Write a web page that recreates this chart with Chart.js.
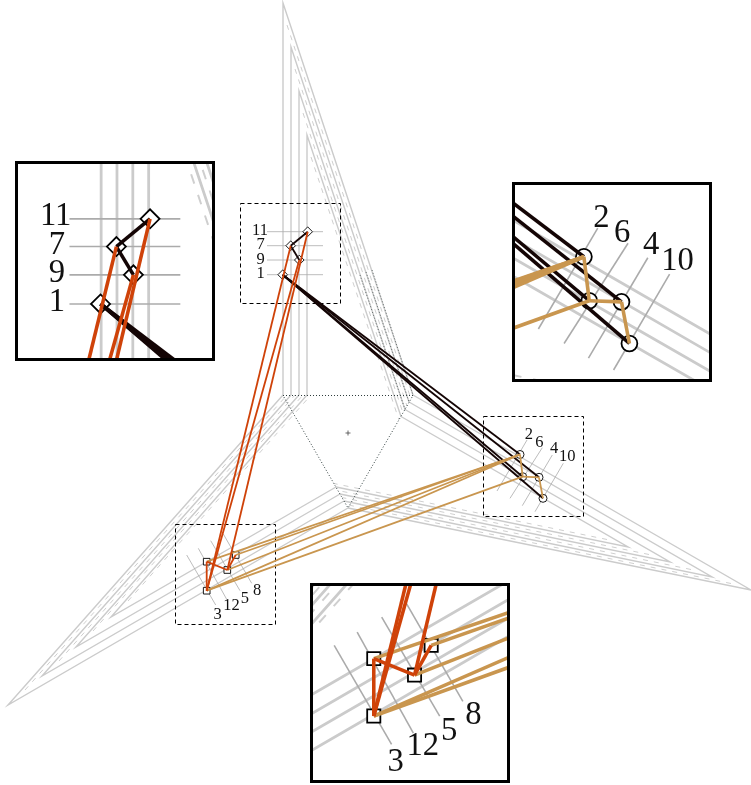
<!DOCTYPE html>
<html lang="en">

<head>
    <meta charset="UTF-8">
    <title>Triple axis graph</title>
    <script src="https://cdn.jsdelivr.net/npm/chart.js"></script>
    <style>
        html, body { margin: 0; padding: 0; background: #fff; }
        #main { position: absolute; left: 0; top: 0; }
        .inset { position: absolute; box-sizing: border-box; width: 200px; height: 200px; border: 3px solid #000; background: #fff; }
        .inset canvas { position: absolute; left: 0; top: 0; }
    </style>
</head>

<body>
    <canvas id="main" width="751" height="785"></canvas>
    <div class="inset" style="left:15px;top:161px"><canvas id="insetA" width="194" height="194"></canvas></div>
    <div class="inset" style="left:512px;top:182px"><canvas id="insetB" width="194" height="194"></canvas></div>
    <div class="inset" style="left:310px;top:583px"><canvas id="insetC" width="194" height="194"></canvas></div>

<script>
    // nodes, index 0 is node 1
    const nodeLabels = ['1', '2', '3', '4', '5', '6', '7', '8', '9', '10', '11', '12'];
    const nodeX = [282.7, 520, 206.7, 539, 227.3, 522.7, 290.7, 235.7, 299.3, 543, 307.7, 206.7];
    const nodeY = [274.7, 454.5, 590.7, 477.3, 570, 476.7, 245.7, 555, 260, 498.3, 231.7, 561.7];

    const diamondNodes = [1, 7, 9, 11];
    const circleNodes = [2, 4, 6, 10];
    const squareNodes = [3, 5, 8, 12];

    const blackLinks = [[1, 2], [1, 4], [1, 6], [1, 10], [11, 7], [7, 9]];
    const redLinks = [[7, 3], [9, 3], [11, 5], [3, 12], [12, 5], [5, 8]];
    const tanLinks = [[12, 2], [8, 2], [5, 2], [3, 2], [3, 6], [2, 6], [6, 4], [4, 10]];

    // tick line of every node, same order as nodeLabels
    const tickX1 = [267, 527, 186.7, 552.3, 210.7, 542.3, 267, 223.3, 267, 563.3, 267, 198.3];
    const tickY1 = [274.7, 440, 555, 455, 540.7, 447.7, 245.7, 534, 260, 463.3, 231.7, 548.3];
    const tickX2 = [323, 497, 215.7, 522.3, 240, 510, 323, 251.7, 323, 535, 323, 226.7];
    const tickY2 = [274.7, 491, 605, 505.7, 590.7, 498.3, 245.7, 583.3, 260, 511.7, 231.7, 599.3];

    const labelX = [260.7, 528.8, 217.7, 554, 244.8, 539.3, 260.7, 257, 260.7, 567.3, 260, 231.5];
    const labelY = [274, 435, 614.3, 449, 598.7, 442.7, 245, 590.3, 259.3, 456.7, 230.7, 606];

    // grey frame: base points on the triangle edges and the tips of the spikes
    const baseAX = [283, 291, 299, 307];
    const baseAY = [395, 395, 395, 395];
    const baseBX = [413, 409, 405, 401];
    const baseBY = [395, 402, 409.5, 416.5];
    const baseCX = [348, 344, 340, 336];
    const baseCY = [508, 501, 494, 487];
    const tipAX = [283, 291, 299, 307];
    const tipAY = [3, 47, 91, 135];
    const tipBX = [751, 712, 670, 628];
    const tipBY = [590, 577, 562, 547];
    const tipCX = [8, 42, 76, 111];
    const tipCY = [705, 676, 647, 617];

    // dashed lines between the solid ones
    const dashBaseAX = [287, 295, 303, 311];
    const dashBaseAY = [395, 395, 395, 395];
    const dashBaseBX = [411, 407, 403, 399];
    const dashBaseBY = [399, 406, 413, 420];
    const dashBaseCX = [346, 342, 338, 334];
    const dashBaseCY = [504.5, 497.5, 490.5, 483.5];
    const dashTipAX = [287, 295, 303, 311];
    const dashTipAY = [25, 69, 113, 157];
    const dashTipBX = [731, 691, 649, 607];
    const dashTipBY = [583.5, 569.5, 554.5, 539.5];
    const dashTipCX = [25, 59, 93, 128];
    const dashTipCY = [690, 661, 631, 601];

    const triangleX = [283, 413, 348, 283];
    const triangleY = [395.5, 395.5, 508, 395.5];
    const dottedStartX = [372, 366, 360];
    const dottedStartY = [270, 272, 275];
    const centerX = 348;
    const centerY = 433;

    // dashed source windows of the three enlargements
    const boxX = [240.5, 483.5, 175.5];
    const boxY = [203.5, 416.5, 524.5];

    const grey = '#cbcbcb';
    const black = '#140505';
    const red = '#cf4209';
    const tan = '#c9964f';

    function linha(pontos, cor, largura, tracos) {
        return {
            type: 'scatter',
            showLine: true,
            data: pontos,
            borderColor: cor,
            backgroundColor: cor,
            borderWidth: largura,
            borderDash: tracos || [],
            pointRadius: 0,
            tension: 0
        };
    }

    function pontosDoNo(nos) {
        return nos.map(function (n) {
            return { x: nodeX[n - 1], y: nodeY[n - 1] };
        });
    }

    function marcadores(nos, estilo, raio, k) {
        return {
            type: 'scatter',
            data: pontosDoNo(nos),
            pointStyle: estilo,
            pointRadius: raio * k,
            pointBackgroundColor: '#fff',
            pointBorderColor: '#000',
            pointBorderWidth: 0.9 * k
        };
    }

    function montarDatasets(k, comCaixas) {
        let ds = [];
        let i;
        let traco = [5 * k, 6 * k];

        for (i = 0; i < 4; i++) {
            ds.push(linha([{ x: baseAX[i], y: baseAY[i] }, { x: tipAX[i], y: tipAY[i] }, { x: baseBX[i], y: baseBY[i] }], grey, 1.4 * k));
            ds.push(linha([{ x: baseBX[i], y: baseBY[i] }, { x: tipBX[i], y: tipBY[i] }, { x: baseCX[i], y: baseCY[i] }], grey, 1.4 * k));
            ds.push(linha([{ x: baseCX[i], y: baseCY[i] }, { x: tipCX[i], y: tipCY[i] }, { x: baseAX[i], y: baseAY[i] }], grey, 1.4 * k));
            ds.push(linha([{ x: dashTipAX[i], y: dashTipAY[i] }, { x: dashBaseBX[i], y: dashBaseBY[i] }], '#cfcfcf', 1 * k, traco));
            ds.push(linha([{ x: dashTipBX[i], y: dashTipBY[i] }, { x: dashBaseCX[i], y: dashBaseCY[i] }], '#cfcfcf', 1 * k, traco));
            ds.push(linha([{ x: dashTipCX[i], y: dashTipCY[i] }, { x: dashBaseAX[i], y: dashBaseAY[i] }], '#cfcfcf', 1 * k, traco));
        }

        // dotted guides
        let tri = triangleX.map(function (x, j) { return { x: x, y: triangleY[j] }; });
        ds.push(linha(tri, '#2f3d3d', 1 * k, [1 * k, 2 * k]));
        for (i = 0; i < dottedStartX.length; i++) {
            ds.push(linha([{ x: dottedStartX[i], y: dottedStartY[i] }, { x: baseBX[i], y: baseBY[i] }], '#566060', 0.9 * k, [1 * k, 2 * k]));
        }

        // ticks of the nodes
        for (i = 0; i < nodeLabels.length; i++) {
            ds.push(linha([{ x: tickX1[i], y: tickY1[i] }, { x: tickX2[i], y: tickY2[i] }], '#ababab', 0.8 * k));
        }

        if (comCaixas) {
            for (i = 0; i < boxX.length; i++) {
                ds.push(linha([
                    { x: boxX[i], y: boxY[i] }, { x: boxX[i] + 100, y: boxY[i] },
                    { x: boxX[i] + 100, y: boxY[i] + 100 }, { x: boxX[i], y: boxY[i] + 100 }, { x: boxX[i], y: boxY[i] }
                ], '#000', 1, [4, 3]));
            }
            ds.push({
                type: 'scatter', data: [{ x: centerX, y: centerY }], pointStyle: 'cross',
                pointRadius: 2.5, pointBorderColor: '#444', pointBorderWidth: 0.8
            });
        }

        ds.push(marcadores(diamondNodes, 'rectRot', 4.8, k));
        ds.push(marcadores(circleNodes, 'circle', 4, k));
        ds.push(marcadores(squareNodes, 'rect', 4.7, k));

        blackLinks.forEach(function (l) { ds.push(linha(pontosDoNo(l), black, 1.8 * k)); });
        tanLinks.forEach(function (l) { ds.push(linha(pontosDoNo(l), tan, 1.8 * k)); });
        redLinks.forEach(function (l) { ds.push(linha(pontosDoNo(l), red, 1.8 * k)); });

        // Chart.js paints the first dataset on top
        return ds.reverse();
    }

    const rotulos = {
        id: 'rotulos',
        afterDatasetsDraw(chart, args, opts) {
            const ctx = chart.ctx;
            ctx.save();
            ctx.beginPath();
            ctx.rect(chart.chartArea.left, chart.chartArea.top, chart.chartArea.width, chart.chartArea.height);
            ctx.clip();
            ctx.font = (16.5 * opts.k) + 'px "Liberation Serif"';
            ctx.fillStyle = '#111';
            ctx.textAlign = 'center';
            ctx.textBaseline = 'middle';
            nodeLabels.forEach(function (t, i) {
                ctx.fillText(t, chart.scales.x.getPixelForValue(labelX[i]), chart.scales.y.getPixelForValue(labelY[i]));
            });
            ctx.restore();
        }
    };

    function plotar(id, x0, y0, largura, k, comCaixas, altura) {
        new Chart(document.getElementById(id), {
            type: 'scatter',
            data: { datasets: montarDatasets(k, comCaixas) },
            plugins: [rotulos],
            options: {
                responsive: false,
                animation: false,
                events: [],
                layout: { padding: 0, autoPadding: false },
                scales: {
                    x: { type: 'linear', display: false, min: x0, max: x0 + largura },
                    y: { type: 'linear', display: false, reverse: true, min: y0, max: y0 + altura }
                },
                plugins: {
                    legend: { display: false },
                    tooltip: { enabled: false },
                    rotulos: { k: k }
                }
            }
        });
    }

    plotar('main', 0, 0, 751, 1, true, 785);
    plotar('insetA', 241, 204, 98, 1.98, false, 98);
    plotar('insetB', 485.2, 418.25, 98, 1.98, false, 98);
    plotar('insetC', 176, 525, 98, 1.98, false, 98);
</script>
</body>

</html>
